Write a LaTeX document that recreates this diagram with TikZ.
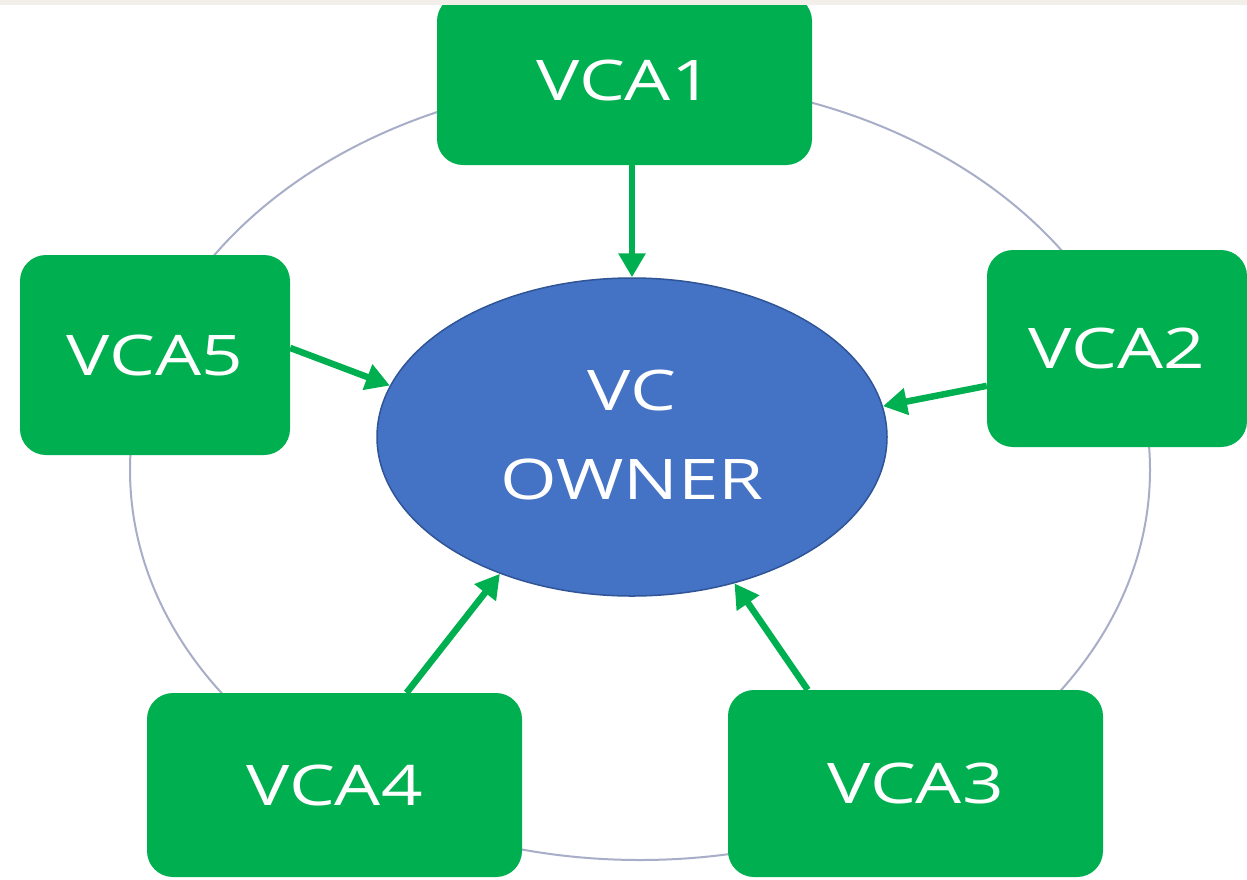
\documentclass[tikz,border=0pt]{standalone}
\usepackage{fontspec}
\newfontfamily\boxfont[FakeStretch=1.3]{Open Sans}
\usetikzlibrary{shapes.geometric,arrows.meta}
\definecolor{vcgreen}{HTML}{00B050}
\definecolor{vcblue}{HTML}{4472C4}
\definecolor{vcedge}{HTML}{2F5597}
\definecolor{ringgray}{HTML}{A8AEC8}
\definecolor{topband}{HTML}{F2EFEA}

\begin{document}
\begin{tikzpicture}[x=1pt,y=-1pt,>={Triangle[length=24pt,width=26pt]},
    vcabox/.style={fill=vcgreen,rounded corners=26pt,text=white,inner sep=0pt,
        font=\boxfont\fontsize{56}{60}\selectfont},
    feed/.style={->,draw=vcgreen,line width=6.5pt}]
    \useasboundingbox (0,0) rectangle (1247,879);
    \fill[white] (0,0) rectangle (1247,879);
    % ring behind the boxes
    \draw[ringgray,line width=2pt] (640,470) ellipse [x radius=510,y radius=390];
    \node[ellipse,fill=vcblue,draw=vcedge,line width=1.5pt,minimum width=510pt,
        minimum height=318pt,inner sep=0pt,text=white,align=center,
        font=\boxfont\fontsize{56}{89}\selectfont] (owner) at (632,437)
        {\raisebox{7pt}{\begin{tabular}{@{}c@{}}VC\\OWNER\end{tabular}}};
    \node[vcabox,minimum width=375pt,minimum height=170pt] (vca1) at (624.5,80) {VCA1};
    \node[vcabox,minimum width=260pt,minimum height=197pt] (vca2) at (1117,348.5) {VCA2};
    \node[vcabox,minimum width=375pt,minimum height=187pt] (vca3) at (915.5,783.5) {VCA3};
    \node[vcabox,minimum width=375pt,minimum height=184pt] (vca4) at (334.5,785) {VCA4};
    \node[vcabox,minimum width=270pt,minimum height=200pt] (vca5) at (155,355) {VCA5};
    % arrows into the owner
    \draw[feed] (vca1.south -| owner.north) -- (owner.north);
    \draw[feed] (vca2.196) -- (owner.7);
    \draw[feed] (vca3.139) -- (owner.305);
    \draw[feed] (vca4.52) -- (owner.226);
    \draw[feed] (vca5.3) -- (owner.168);
    \fill[topband] (0,0) rectangle (1247,5);
\end{tikzpicture}
\end{document}
